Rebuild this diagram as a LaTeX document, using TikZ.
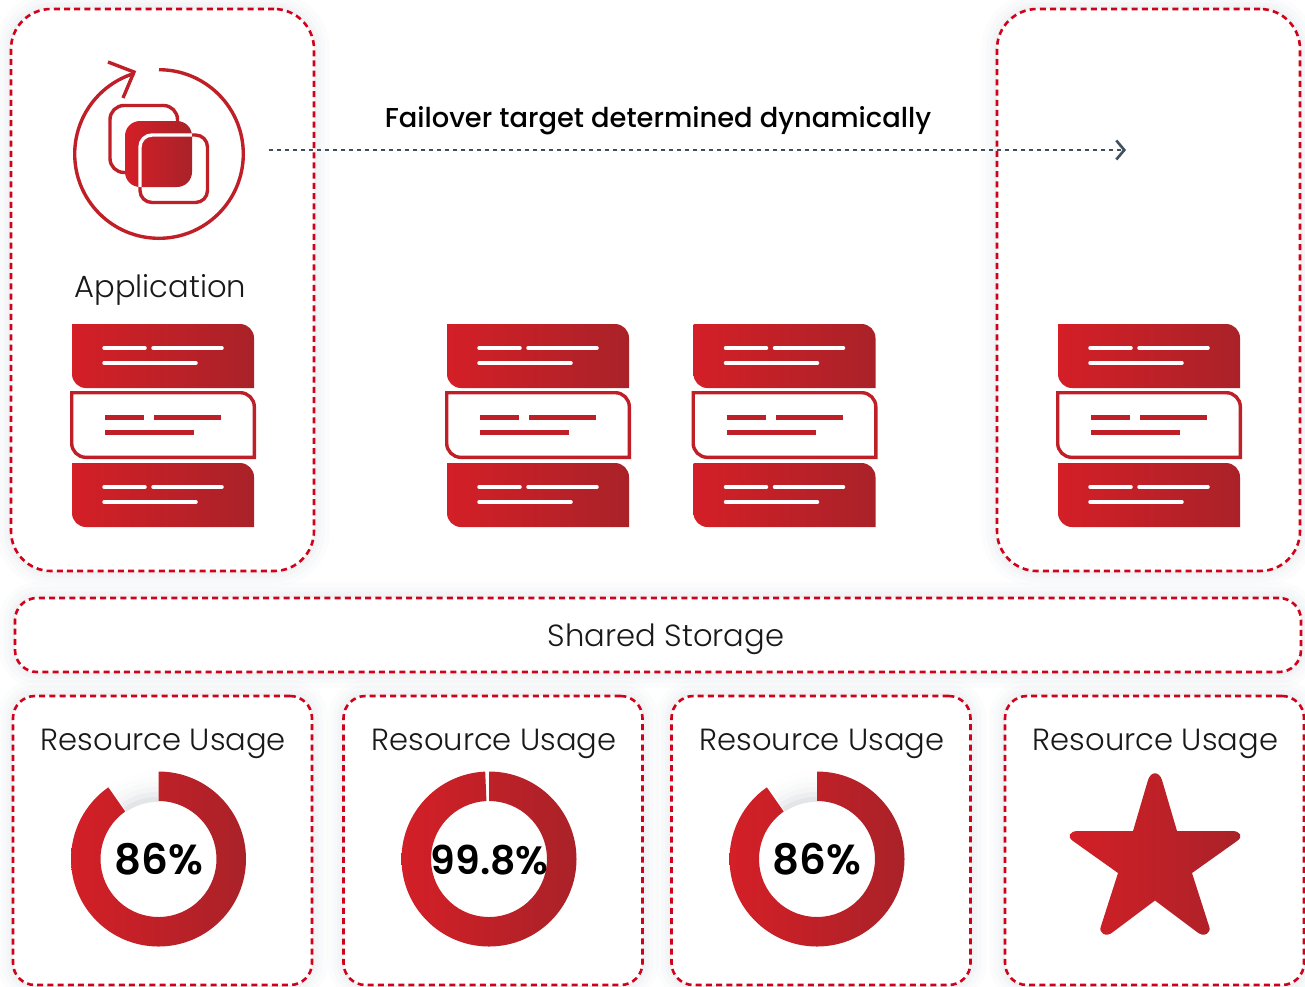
\documentclass[tikz,border=0pt]{standalone}
\usepackage{fontspec}
\usepackage{xcolor}
\usepackage{tikz}
\usetikzlibrary{arrows.meta}
\setmainfont{Poppins Light}
\newfontfamily\midfont{Poppins Medium}
\newfontfamily\boldfont{Poppins SemiBold}
\definecolor{redleft}{HTML}{D41F27}
\definecolor{redright}{HTML}{A92228}
\definecolor{redmid}{HTML}{BF2028}
\definecolor{dashred}{HTML}{D0021B}
\definecolor{halocol}{HTML}{7F8C9C}
\definecolor{flowcol}{HTML}{3F4F5C}
\newcommand\slabpath[2]{(#1,#2) -- ++(168,0) arc[start angle=-90,end angle=0,radius=14] -- ++(0,50) -- ++(-168,0) arc[start angle=90,end angle=180,radius=14] -- cycle}
\newcommand\ringpath[2]{(#1,859) ++(270:87.5) arc[start angle=270,end angle=#2,radius=87.5] -- ++(#2:-29.5) arc[start angle=#2,end angle=270,radius=58] -- cycle}
\tikzset{
  panel/.style={draw=dashred,fill=white,line width=2.6pt,dash pattern=on 6pt off 4.2pt,inner sep=0pt,
    preaction={draw=halocol,solid,line width=32pt,opacity=.022},
    preaction={draw=halocol,solid,line width=22pt,opacity=.03},
    preaction={draw=halocol,solid,line width=13pt,opacity=.035},
    preaction={draw=halocol,solid,line width=6pt,opacity=.04}},
  bigpanel/.style={panel,rounded corners=40pt,minimum width=303pt,minimum height=562pt},
  smallpanel/.style={panel,rounded corners=22pt,minimum width=299pt,minimum height=289pt},
  caption/.style={anchor=base,font=\fontsize{30.6}{31}\selectfont,text=black!90,inner sep=0pt},
  percent/.style={anchor=base,font=\boldfont\fontsize{42}{42}\selectfont,text=black,inner sep=0pt},
  redshade/.style={left color=redleft,right color=redright,shading angle=90,draw=none},
  iconline/.style={draw=redmid,line width=3.4pt},
  whiteline/.style={draw=white,line width=3.5pt,line cap=round},
  redline/.style={draw=redmid,line width=4.2pt},
}
\begin{document}
\begin{tikzpicture}[x=1pt,y=-1pt]
  \useasboundingbox (0,0) rectangle (1305,986);
  % nodes on the hosts
  \node[bigpanel] (apphost) at (162.5,290) {};
  \node[bigpanel] (lasthost) at (1148.5,290) {};
  % shared storage
  \node[panel,rounded corners=22pt,minimum width=1286pt,minimum height=74pt] (storage) at (658,635) {};
  \node[caption] (storagetxt) at (666,646) {Shared Storage};
  % usage panels
  \node[smallpanel] (usageA) at (162.5,840.5) {};
  \node[smallpanel] (usageB) at (493,840.5) {};
  \node[smallpanel] (usageC) at (821,840.5) {};
  \node[smallpanel] (usageD) at (1154.5,840.5) {};
  \node[caption] (usageAtxt) at (163.5,750) {Resource Usage};
  \node[caption] (usageBtxt) at (494,750) {Resource Usage};
  \node[caption] (usageCtxt) at (822,750) {Resource Usage};
  \node[caption] (usageDtxt) at (1155.5,750) {Resource Usage};
  % application icon
  \draw[iconline] (159,69.7) arc[start angle=270,end angle=613,radius=84.3];
  \draw[iconline] (108,62) -- (134,72) -- (123,98);
  \draw[iconline,rounded corners=14pt] (110,105.5) rectangle (177.5,172.5);
  \shade[redshade,rounded corners=15pt] (125,121) rectangle (192,187);
  \draw[iconline,rounded corners=12pt] (140,135) rectangle (207.5,202.5);
  \begin{scope}
    \clip[rounded corners=15pt] (125,121) rectangle (192,187);
    \draw[draw=white,line width=3.4pt,rounded corners=12pt] (140,135) rectangle (207.5,202.5);
  \end{scope}
  \node[caption] (apptxt) at (160.5,297.5) {Application};
  % failover arrow
  \node[anchor=base,font=\midfont\fontsize{27.3}{28}\selectfont,text=black,inner sep=0pt] (flowtxt) at (658,127.5) {Failover target determined dynamically};
  \coordinate (flowstart) at (269,150);
  \coordinate (flowend) at (1126,150);
  \draw[flowcol,line width=2.6pt,dash pattern=on 4pt off 4pt,-{Straight Barb[length=8pt,width=19pt,line width=2.6pt]}] (flowstart) -- (flowend);
  % server stacks
  \foreach \sx in {0,375,621.5,986}{
    \begin{scope}[shift={(\sx,0)}]
      \shade[redshade] \slabpath{72}{324};
      \shade[redshade] \slabpath{72}{463};
      \draw[draw=redmid,line width=3.4pt] (71.7,392.7) -- ++(168.6,0) arc[start angle=-90,end angle=0,radius=14] -- ++(0,50.6) -- ++(-168.6,0) arc[start angle=90,end angle=180,radius=14] -- cycle;
      \foreach \ty in {0,139}{
        \draw[whiteline] (104,348+\ty) -- (145,348+\ty);
        \draw[whiteline] (153,348+\ty) -- (222,348+\ty);
        \draw[whiteline] (104,363+\ty) -- (196,363+\ty);
      }
      \draw[redline] (105,417.5) -- (144,417.5);
      \draw[redline] (154,417.5) -- (221,417.5);
      \draw[redline] (105,432.5) -- (194,432.5);
    \end{scope}
  }
  % usage rings
  \foreach \cx in {158.5,817}{
    \foreach \gr/\gc in {60/22,65/15,70/9,75/5,80/3,85/1}{
      \draw[draw=halocol!\gc!white,line width=5.5pt] (\cx,859) ++(236:\gr) arc[start angle=236,end angle=270,radius=\gr];
    }
    \shade[redshade] \ringpath{\cx}{595};
  }
  \shade[redshade] \ringpath{489}{627.5};
  \node[percent] (pctA) at (158.5,874.5) {86\%};
  \node[percent,font=\boldfont\fontsize{39.5}{40}\selectfont] (pctB) at (489.5,874) {99.8\%};
  \node[percent] (pctC) at (817,874.5) {86\%};
  % star
  \shade[redshade] (1133,831) -- (1148,780) .. controls (1151,771) and (1159,771) .. (1162,780) -- (1177,831) -- (1232,831) .. controls (1241,831) and (1243,837) .. (1237,841) -- (1192,873) -- (1209,926) .. controls (1212,933) and (1204,938) .. (1197,932) -- (1155,900.5) -- (1113,932) .. controls (1106,938) and (1098,933) .. (1101,926) -- (1118,873) -- (1073,841) .. controls (1067,837) and (1069,831) .. (1078,831) -- cycle;
\end{tikzpicture}
\end{document}
